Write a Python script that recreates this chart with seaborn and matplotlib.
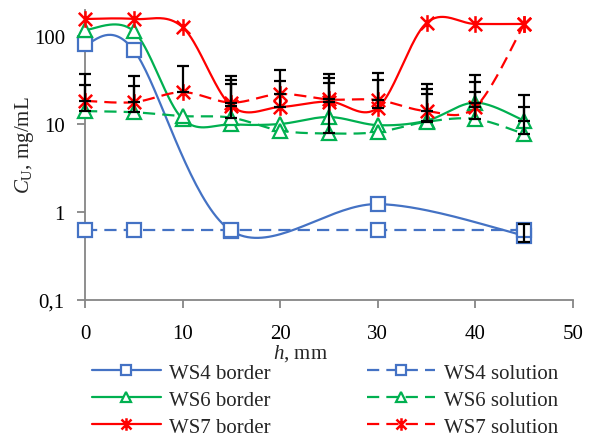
import numpy as np
import matplotlib
matplotlib.use('Agg')
import matplotlib.pyplot as plt
import seaborn as sns
from matplotlib.path import Path
from matplotlib.lines import Line2D
from matplotlib.ticker import NullLocator

# ---------------- data ----------------
h_all = [0, 5, 10, 15, 20, 25, 30, 35, 40, 45]
h_ws4 = [0, 5, 15, 30, 45]

ws4_border = [81, 69, 0.61, 1.23, 0.54]
ws4_solution = [0.62, 0.62, 0.62, 0.62, 0.62]
ws6_border = [117, 113, 11.4, 9.9, 10.0, 12.0, 9.7, 10.9, 17.5, 10.9]
ws6_solution = [14.0, 13.6, 12.3, 11.8, 8.4, 7.8, 8.1, 10.6, 11.4, 7.7]
ws7_border = [156, 156, 126, 16.0, 15.6, 18.0, 15.3, 141, 137, 137]
ws7_solution = [18.3, 17.7, 23.0, 17.5, 21.9, 19.0, 18.7, 14.0, 15.6, 137]

nan = np.nan
# error magnitudes (plus direction; WS4 border also has a minus part)
ws4_border_err_up = [nan, nan, nan, nan, 0.19]
ws4_border_err_lo = [nan, nan, nan, nan, 0.08]
ws6_border_err = [nan, nan, nan, nan, nan, nan, nan, 14.1, 18.5, 10.4]
ws6_solution_err = [13.7, 13.4, nan, 16.7, nan, 21.2, nan, 11.4, 11.6, 7.9]
ws7_border_err = [nan, nan, nan, 15.6, 15.2, 15.0, 16.3, nan, nan, nan]
ws7_solution_err = [18.7, 17.3, 22.7, 17.5, 19.0, 18.0, 19.3, 14.5, 14.4, nan]

y_ticks = [0.1, 1, 10, 100]
y_tick_labels = ['0,1', '1', '10', '100']
x_ticks = [0, 10, 20, 30, 40, 50]

labels = ['WS4 border', 'WS6 border', 'WS7 border',
          'WS4 solution', 'WS6 solution', 'WS7 solution']

# ---------------- style ----------------
sns.set_theme(style='ticks')
plt.rcParams['font.family'] = ['Liberation Serif', 'DejaVu Serif']
plt.rcParams['mathtext.fontset'] = 'custom'
plt.rcParams['mathtext.rm'] = 'Liberation Serif'
plt.rcParams['mathtext.it'] = 'Liberation Serif:italic'

BLUE = '#4472C4'
GREEN = '#00B050'
RED = '#FF0000'
AXC = '#868686'
FS = 15
LW = 1.6
DASH = (0, (5.5, 3.2))

star = Path([(0, -1), (0, 1), (-0.8, -0.8), (0.8, 0.8), (-0.8, 0.8), (0.8, -0.8)],
            [Path.MOVETO, Path.LINETO, Path.MOVETO, Path.LINETO, Path.MOVETO, Path.LINETO])

def smooth(x, y, n=40):
    """Excel-style smoothed line (cubic Bezier) in (x, log y) space."""
    P = np.column_stack([np.asarray(x, float), np.log10(np.asarray(y, float))])
    N = len(P)
    t = np.linspace(0, 1, n)[1:, None]
    out = [P[0]]
    for i in range(N - 1):
        p0 = P[i - 1] if i > 0 else P[i]
        p1, p2 = P[i], P[i + 1]
        p3 = P[i + 2] if i + 2 < N else P[i + 1]
        c1 = p1 + (p2 - p0) / 6
        c2 = p2 - (p3 - p1) / 6
        seg = (1 - t) ** 3 * p1 + 3 * (1 - t) ** 2 * t * c1 + 3 * (1 - t) * t ** 2 * c2 + t ** 3 * p2
        out.extend(seg)
    out = np.array(out)
    return out[:, 0], 10 ** out[:, 1]

fig = plt.figure(figsize=(5.9, 4.39), dpi=100)
ax = fig.add_axes([85 / 590, 1 - 301 / 439, 488 / 590, 290.5 / 439])

series = [
    (h_ws4, ws4_border, BLUE, 's', '-', 9.5),
    (h_all, ws6_border, GREEN, '^', '-', 10.5),
    (h_all, ws7_border, RED, star, '-', 12),
    (h_ws4, ws4_solution, BLUE, 's', DASH, 9.5),
    (h_all, ws6_solution, GREEN, '^', DASH, 10.5),
    (h_all, ws7_solution, RED, star, DASH, 12),
]

handles = []
for (xs, ys, c, m, ls, ms), lab in zip(series, labels):
    sx, sy = smooth(xs, ys)
    sns.lineplot(x=sx, y=sy, ax=ax, color=c, linewidth=LW, linestyle=ls,
                 sort=False, estimator=None, clip_on=False, zorder=3)
    mew = 1.6 if m is not star else 1.8
    ax.plot(xs, ys, linestyle='none', marker=m, markersize=ms, markerfacecolor='white',
            markeredgecolor=c, markeredgewidth=mew, clip_on=False, zorder=4)
    handles.append(Line2D([], [], color=c, linewidth=LW, linestyle=ls, marker=m,
                          markersize=ms * 0.75, markerfacecolor='white',
                          markeredgecolor=c, markeredgewidth=mew))

# error bars (black)
err_sets = [
    (h_ws4, ws4_border, ws4_border_err_lo, ws4_border_err_up),
    (h_all, ws6_border, None, ws6_border_err),
    (h_all, ws6_solution, None, ws6_solution_err),
    (h_all, ws7_border, None, ws7_border_err),
    (h_all, ws7_solution, None, ws7_solution_err),
]
for xs, ys, lo, up in err_sets:
    up = np.asarray(up, float)
    lo = np.zeros_like(up) if lo is None else np.asarray(lo, float)
    mask = ~np.isnan(up)
    xs_m = np.asarray(xs, float)[mask]
    ys_m = np.asarray(ys, float)[mask]
    ax.errorbar(xs_m, ys_m, yerr=[lo[mask], up[mask]], fmt='none', ecolor='black',
                elinewidth=1.6, capsize=4.5, capthick=1.6, zorder=5, clip_on=False)

ax.set_yscale('log')
ax.set_ylim(0.1, 200)
ax.set_xlim(0, 50)
ax.set_yticks(y_ticks, y_tick_labels)
ax.set_xticks(x_ticks, [str(v) for v in x_ticks])
ax.yaxis.set_minor_locator(NullLocator())

for side in ['top', 'right']:
    ax.spines[side].set_visible(False)
for side in ['left', 'bottom']:
    ax.spines[side].set_color(AXC)
    ax.spines[side].set_linewidth(1.3)
ax.tick_params(axis='both', direction='out', length=5.5, width=1.3, color=AXC,
               labelsize=FS, labelcolor='black')
ax.tick_params(axis='y', pad=9)
ax.tick_params(axis='x', pad=12)

ax.set_xlabel(r'$h$, mm', fontsize=FS)
ax.xaxis.set_label_coords((300 - 85) / 488, (301 - 343) / 290.5)
ax.set_ylabel(r'$C_{\mathrm{U}}$, mg/mL', fontsize=FS)
ax.yaxis.set_label_coords((36 - 85) / 488, (301 - 145) / 290.5)

fig.legend(handles=handles, labels=labels, loc='upper left',
           bbox_to_anchor=(92 / 590, 1 - 364 / 439), ncol=2, frameon=False,
           fontsize=FS, handlelength=3.3, handletextpad=0.4, columnspacing=4.6,
           labelspacing=0.36, borderpad=0, borderaxespad=0)

fig.savefig('out.png', dpi=100)
